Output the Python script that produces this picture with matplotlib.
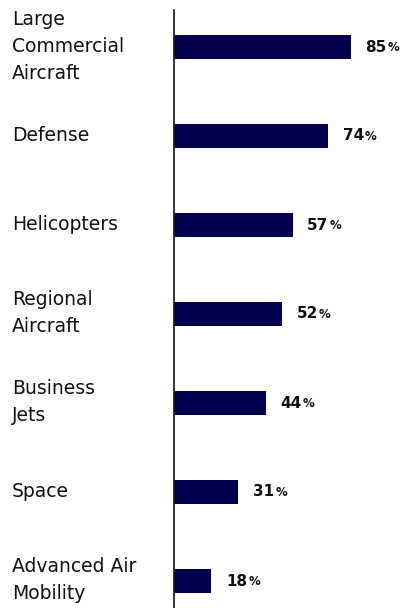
import matplotlib.pyplot as plt

# Segment labels and percentages, top to bottom
segments = ["Large\nCommercial\nAircraft", "Defense", "Helicopters",
            "Regional\nAircraft", "Business\nJets", "Space",
            "Advanced Air\nMobility"]
shares = [85, 74, 57, 52, 44, 31, 18]

navy = "#03004f"
plt.rcParams['font.family'] = ['DejaVu Sans']

W, H = 407, 608
fig = plt.figure(figsize=(W / 100, H / 100), dpi=100)
ax = fig.add_axes([174 / W, 0, 1 - 174 / W, (H - 10) / H])

pos = list(range(len(segments)))
ax.barh(pos, shares, height=0.26, color=navy)
ax.set_ylim(561 / 89, -37 / 89)
ax.set_xlim(0, (W - 174) / 2.08)

for s in ["top", "right", "bottom"]:
    ax.spines[s].set_visible(False)
ax.spines["left"].set_color("#111111")
ax.spines["left"].set_linewidth(1.2)
ax.set_xticks([])
ax.set_yticks([])

# category names, left aligned at the figure edge
for y, name in zip(pos, segments):
    ax.annotate(name, xy=(0, y), xycoords=("figure fraction", "data"),
                xytext=(8.6, 0.5), textcoords="offset points",
                ha="left", va="center", fontsize=13.5, color="#111111",
                linespacing=1.52)

# value labels: bold number with a smaller percent sign
fig.canvas.draw()
renderer = fig.canvas.get_renderer()
for y, v in zip(pos, shares):
    t = ax.annotate(str(v), xy=(v, y), xytext=(10.5, 0), textcoords="offset points",
                    ha="left", va="center", fontsize=11, fontweight="bold",
                    color="#111111")
    bb = t.get_window_extent(renderer)
    ax.annotate("%", xy=(bb.x1 + 1, bb.y0 + 0.8), xycoords="figure pixels",
                ha="left", va="bottom", fontsize=8.5, fontweight="bold",
                color="#111111")

fig.savefig("out.png", dpi=100)
